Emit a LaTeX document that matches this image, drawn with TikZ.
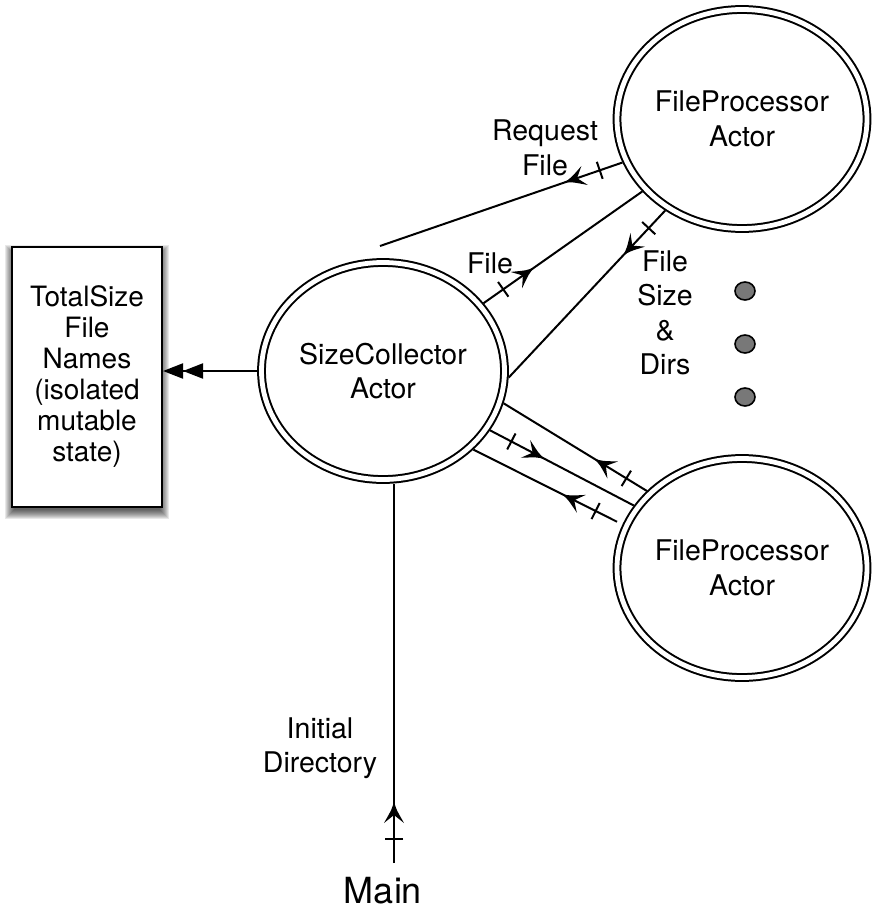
\documentclass[tikz,border=0pt]{standalone}
\usepackage{fontspec}
\setmainfont{TeX Gyre Heros}
\usetikzlibrary{shapes.geometric,arrows.meta,decorations.markings,calc,backgrounds}
\newcommand\lblfont{\fontsize{28.5}{34.5}\selectfont}
\newcommand\boxfont{\fontsize{28}{31}\selectfont}
\newcommand\mainlblfont{\fontsize{36}{40}\selectfont}
\definecolor{dotgray}{RGB}{120,120,120}
\begin{document}
\begin{tikzpicture}[x=1pt,y=-1pt,
  actor/.style={ellipse, draw, line width=2pt, double, double distance=4.8pt,
    inner sep=0pt, outer sep=4.4pt, minimum width=250pt, minimum height=219pt,
    align=center, font=\lblfont},
  lab/.style={align=center, font=\lblfont, inner sep=0pt},
  statebox/.style={draw, fill=white, line width=2pt, minimum width=150pt,
    minimum height=260pt, align=center, font=\boxfont, inner sep=0pt},
  conn/.style={line width=2pt},
  msg/.style={conn, postaction={decorate}, decoration={markings,
    mark=at position 24pt with {\draw[line width=2pt] (0pt,-9pt) -- (0pt,9pt);},
    mark=at position 62pt with {\fill (0pt,0pt) .. controls (-8pt,2pt) .. (-22pt,10pt)
       -- (-14pt,0pt) -- (-22pt,-10pt) .. controls (-8pt,-2pt) .. (0pt,0pt) -- cycle;}}},
  dotnode/.style={ellipse, draw, line width=1.6pt, fill=dotgray,
    minimum width=20pt, minimum height=18pt, inner sep=0pt}]
\useasboundingbox (0,0) rectangle (872,910);

% nodes
\node[actor, minimum width=243pt, minimum height=217pt] (SC) at (383,371) {SizeCollector\\Actor};
\node[actor] (FP1) at (742,119) {FileProcessor\\Actor};
\node[actor] (FP2) at (742,568) {FileProcessor\\Actor};
\node[statebox] (TS) at (87,377) {TotalSize\\File\\Names\\(isolated\\mutable\\state)};

\begin{scope}[on background layer]
  \foreach \s in {-3,...,6} {
    \fill[black, opacity=0.09] ($(TS.south west)+(-\s,5+\s)$) rectangle ($(TS.north east)+(\s,5-\s)$);
  }
\end{scope}

\node[lab] (lRF) at (545,148) {Request\\File};
\node[lab] (lF) at (490,263) {File};
\node[lab] (lFS) at (665,313) {File\\Size\\\&\\Dirs};
\node[lab] (lID) at (320,748) {Initial\\Directory};
\node[font=\mainlblfont, inner sep=0pt] (M) at (383,891) {Main};

\node[dotnode] (d1) at (745,291) {};
\node[dotnode] (d2) at (745,344) {};
\node[dotnode] (d3) at (745,397) {};

\coordinate (rq) at (380,246);
\coordinate (ms) at (394,863);
\coordinate (cst) at ($(FP2.160)!6pt!(SC.-41)$);

% connectors
\draw[msg] (FP1.-160) -- (rq);
\draw[msg] (SC.34) -- (FP1.216);
\draw[msg] (FP1.230) -- (SC.-3);
\draw[msg] (FP2.141) -- (SC.-15);
\draw[msg] (SC.-29) -- (FP2.150);
\draw[msg] (cst) -- (SC.-41);
\draw[msg] (ms) -- (ms |- SC.south);
\draw[conn, -{Triangle[length=20pt,width=15pt]Triangle[length=20pt,width=15pt]}] (SC.west) -- (SC.west -| TS.east);
\end{tikzpicture}
\end{document}
